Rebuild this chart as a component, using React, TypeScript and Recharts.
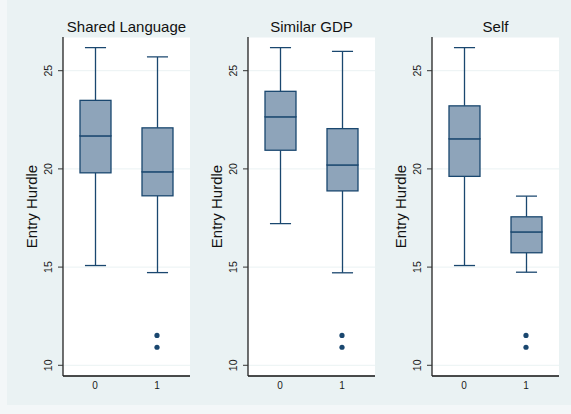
import React from 'react';
import { ComposedChart, Bar, Line, XAxis, YAxis, CartesianGrid } from 'recharts';

// Category labels on the x axis of every panel
const categories = ['0', '1'];
const panelTitles = ['Shared Language', 'Similar GDP', 'Self'];
const yAxisTitle = 'Entry Hurdle';
const yTicks = [10, 15, 20, 25];
const yDomain = [9.455, 26.716];

// Box summaries per category: [lower whisker, Q1, median, Q3, upper whisker]
const sharedLanguageBoxes = [
  [15.08, 19.8, 21.68, 23.49, 26.17],
  [14.72, 18.63, 19.85, 22.09, 25.7],
];
const similarGdpBoxes = [
  [17.21, 20.95, 22.65, 23.95, 26.17],
  [14.71, 18.88, 20.2, 22.05, 25.98],
];
const selfBoxes = [
  [15.08, 19.62, 21.53, 23.21, 26.17],
  [14.74, 15.73, 16.79, 17.56, 18.61],
];

// Outside values per category
const sharedLanguageOutliers = [[], [11.52, 10.92]];
const similarGdpOutliers = [[], [11.52, 10.92]];
const selfOutliers = [[], [11.52, 10.92]];

const NAVY = '#1a476f';
const BOX_FILL = '#8ea4ba';
const FONT = '"Liberation Sans", Arial, Helvetica, sans-serif';
const BG = '#eaf2f3';

const CHART_W = 190;
const CHART_H = 414;
const Y_AXIS_W = 60;
const MARGIN = { top: 37, right: 3, left: 0, bottom: 8 };

const buildRows = (boxes: number[][], outliers: number[][]) =>
  categories.map((c, i) => {
    const b = boxes[i];
    const o = outliers[i];
    return {
      cat: c,
      base: b[0],
      lowW: b[1] - b[0],
      box1: b[2] - b[1],
      box2: b[3] - b[2],
      upW: b[4] - b[3],
      out0: o[0] !== undefined ? o[0] : null,
      out1: o[1] !== undefined ? o[1] : null,
    };
  });

const EmptyShape = () => <g />;

const LowWhisker = (p: any) => {
  const { x, y, width, height } = p;
  const cx = x + width / 2;
  const cap = width * 0.34;
  return (
    <g>
      <line x1={cx} x2={cx} y1={y} y2={y + height} stroke={NAVY} strokeWidth={1.3} />
      <line x1={cx - cap} x2={cx + cap} y1={y + height} y2={y + height} stroke={NAVY} strokeWidth={1.3} />
    </g>
  );
};

const HighWhisker = (p: any) => {
  const { x, y, width, height } = p;
  const cx = x + width / 2;
  const cap = width * 0.34;
  return (
    <g>
      <line x1={cx} x2={cx} y1={y} y2={y + height} stroke={NAVY} strokeWidth={1.3} />
      <line x1={cx - cap} x2={cx + cap} y1={y} y2={y} stroke={NAVY} strokeWidth={1.3} />
    </g>
  );
};

const BoxPart = (p: any) => {
  const { x, y, width, height } = p;
  return <rect x={x} y={y} width={width} height={height} fill={BOX_FILL} stroke={NAVY} strokeWidth={1.3} />;
};

const RotatedTick = (p: any) => {
  const { x, y, payload } = p;
  const bx = x - 3.5;
  return (
    <text
      x={bx}
      y={y}
      transform={`rotate(-90, ${bx}, ${y})`}
      textAnchor="middle"
      fontSize={10.5}
      fontFamily={FONT}
      fill="#1a1a1a"
    >
      {payload.value}
    </text>
  );
};

const Panel = ({ boxes, outliers, left }: { boxes: number[][]; outliers: number[][]; left: number }) => {
  const rows = buildRows(boxes, outliers);
  return (
    <div style={{ position: 'absolute', left, top: 0, width: CHART_W, height: CHART_H }}>
      <ComposedChart width={CHART_W} height={CHART_H} data={rows} margin={MARGIN}>
        <CartesianGrid horizontal vertical={false} fill="#ffffff" stroke={BG} strokeWidth={1} />
        <XAxis
          dataKey="cat"
          type="category"
          padding={{ left: 1, right: 2 }}
          height={30}
          tickLine={false}
          tickSize={3}
          tickMargin={3}
          axisLine={{ stroke: '#111', strokeWidth: 1.3 }}
          tick={{ fontSize: 10, fontFamily: FONT, fill: '#1a1a1a' }}
        />
        <YAxis
          type="number"
          domain={yDomain}
          ticks={yTicks}
          allowDataOverflow
          width={Y_AXIS_W}
          tickSize={5}
          tickMargin={2}
          tickLine={{ stroke: '#333' }}
          axisLine={{ stroke: '#222', strokeWidth: 1.3 }}
          tick={<RotatedTick />}
          label={{
            value: yAxisTitle,
            angle: -90,
            position: 'center',
            dx: -1,
            style: { fontSize: 15, fontFamily: FONT, fill: '#111' },
          }}
        />
        <Bar dataKey="base" stackId="s" barSize={31} shape={EmptyShape} isAnimationActive={false} />
        <Bar dataKey="lowW" stackId="s" barSize={31} shape={LowWhisker} isAnimationActive={false} />
        <Bar dataKey="box1" stackId="s" barSize={31} shape={BoxPart} isAnimationActive={false} />
        <Bar dataKey="box2" stackId="s" barSize={31} shape={BoxPart} isAnimationActive={false} />
        <Bar dataKey="upW" stackId="s" barSize={31} shape={HighWhisker} isAnimationActive={false} />
        <Line
          dataKey="out0"
          stroke="none"
          dot={{ r: 2.6, fill: NAVY, stroke: NAVY, strokeWidth: 0 }}
          activeDot={false}
          isAnimationActive={false}
        />
        <Line
          dataKey="out1"
          stroke="none"
          dot={{ r: 2.6, fill: NAVY, stroke: NAVY, strokeWidth: 0 }}
          activeDot={false}
          isAnimationActive={false}
        />
      </ComposedChart>
    </div>
  );
};

const panelLefts = [3, 188, 372];
const plotW = CHART_W - Y_AXIS_W - MARGIN.right;

export default function App() {
  const panels = [
    { boxes: sharedLanguageBoxes, outliers: sharedLanguageOutliers },
    { boxes: similarGdpBoxes, outliers: similarGdpOutliers },
    { boxes: selfBoxes, outliers: selfOutliers },
  ];
  return (
    <div style={{ position: 'absolute', left: 0, top: 0, width: 571, height: 414, background: '#f3f7f8', overflow: 'hidden' }}>
      <div style={{ position: 'absolute', left: 7, top: 0, width: 564, height: 405, background: BG }} />
      {panels.map((p, i) => (
        <Panel key={i} boxes={p.boxes} outliers={p.outliers} left={panelLefts[i]} />
      ))}
      <svg width={571} height={414} style={{ position: 'absolute', left: 0, top: 0, pointerEvents: 'none' }}>
        {panelTitles.map((t, i) => (
          <text
            key={t}
            x={panelLefts[i] + Y_AXIS_W + plotW / 2}
            y={31.7}
            textAnchor="middle"
            fontSize={15}
            fontFamily={FONT}
            fill="#111"
          >
            {t}
          </text>
        ))}
      </svg>
    </div>
  );
}
